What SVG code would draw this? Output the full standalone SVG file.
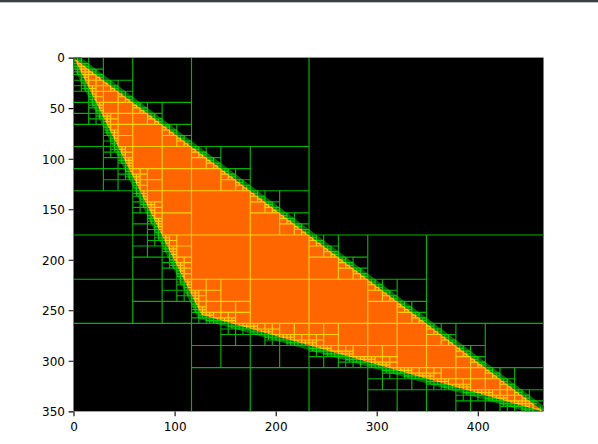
<svg xmlns="http://www.w3.org/2000/svg" width="598" height="444" viewBox="0 0 598 444">
<style>
.lbl{font-family:"DejaVu Sans",sans-serif;font-size:12px;fill:#000}
.tk{stroke:#000;stroke-width:1.1}
.q{fill:none;stroke:#00b400;stroke-width:1.15;vector-effect:non-scaling-stroke}
</style>
<defs>
<clipPath id="ax"><rect x="-0.5" y="-0.5" width="465" height="350"/></clipPath>
</defs>
<rect x="0" y="0" width="598" height="444" fill="#fff"/>
<rect x="0" y="0" width="598" height="2.3" fill="#3c3f41"/>
<g id="plot" transform="translate(74,58.1) scale(1.0108)">
<rect x="-0.5" y="-0.5" width="465" height="350" fill="#000"/>
<g clip-path="url(#ax)">
<polygon id="band" points="0,0 126,254 465,350" fill="none" stroke="#006c00" stroke-width="9" stroke-linejoin="round"/>
<polygon id="triangle" points="0,0 126,254 465,350" fill="#ff6600"/>
<g id="quadtree" style="mix-blend-mode:screen">
<path class="q" transform="scale(465,350)" d="M.5,0v1m-.5-.5h1"/>
<path class="q" transform="scale(232.5,175)" d="M.5,0v1m-.5-.5h1M.5,1v1m-.5-.5h1M1.5,1v1m-.5-.5h1"/>
<path class="q" transform="scale(116.25,87.5)" d="M.5,0v1m-.5-.5h1m.5.5v1m-.5-.5h1m.5.5v1m-.5-.5h1m.5.5v1m-.5-.5h1m.5.5M.5,1v1m-.5-.5h1m-.5.5v1m-.5-.5h1m-.5.5M1.5,2v1m-.5-.5h1m-.5.5v1m-.5-.5h1m-.5.5M2.5,3v1m-.5-.5h1"/>
<path class="q" transform="scale(58.125,43.75)" d="M.5,0v1m-.5-.5h1m.5.5v1m-.5-.5h1m.5.5v1m-.5-.5h1m.5.5v1m-.5-.5h1m.5.5v1m-.5-.5h1m.5.5v1m-.5-.5h1m.5.5v1m-.5-.5h1m.5.5v1m-.5-.5h1m.5.5M.5,1v1m-.5-.5h1m-.5.5v1m-.5-.5h1m-.5.5M1.5,2v1m-.5-.5h1m-.5.5v1m-.5-.5h1m-.5.5v1m-.5-.5h1m-.5.5v1m-.5-.5h1m-.5.5M2.5,5v1m-.5-.5h1m-.5.5v1m-.5-.5h1m-.5.5M3.5,6v1m-.5-.5h1m.5-.5v1m-.5-.5h1m.5-.5v1m-.5-.5h1m.5-.5M5.5,7v1m-.5-.5h1m.5-.5v1m-.5-.5h1m.5-.5"/>
<path class="q" transform="scale(29.0625,21.875)" d="M.5,0v1m-.5-.5h1m.5.5v1m-.5-.5h1m.5.5v1m-.5-.5h1m.5.5v1m-.5-.5h1m.5.5v1m-.5-.5h1m.5.5v1m-.5-.5h1m.5.5v1m-.5-.5h1m.5.5v1m-.5-.5h1m.5.5v1m-.5-.5h1m.5.5v1m-.5-.5h1m.5.5v1m-.5-.5h1m.5.5v1m-.5-.5h1m.5.5v1m-.5-.5h1m.5.5v1m-.5-.5h1m.5.5v1m-.5-.5h1m.5.5v1m-.5-.5h1m.5.5M.5,1v1m-.5-.5h1m-.5.5v1m-.5-.5h1m-.5.5M1.5,2v1m-.5-.5h1m-.5.5v1m-.5-.5h1m-.5.5v1m-.5-.5h1m-.5.5v1m-.5-.5h1m-.5.5M2.5,5v1m-.5-.5h1m-.5.5v1m-.5-.5h1m-.5.5v1m-.5-.5h1m-.5.5v1m-.5-.5h1m-.5.5M3.5,8v1m-.5-.5h1m-.5.5v1m-.5-.5h1m-.5.5v1m-.5-.5h1m-.5.5M4.5,10v1m-.5-.5h1m-.5.5v1m-.5-.5h1m-.5.5M5.5,11v1m-.5-.5h1M5.5,12v1m-.5-.5h1m.5-.5v1m-.5-.5h1m.5-.5v1m-.5-.5h1m.5-.5v1m-.5-.5h1m.5-.5M8.5,13v1m-.5-.5h1m.5-.5v1m-.5-.5h1m.5-.5v1m-.5-.5h1m.5-.5M10.5,14v1m-.5-.5h1m.5-.5v1m-.5-.5h1m.5-.5v1m-.5-.5h1m.5-.5v1m-.5-.5h1m.5-.5M13.5,15v1m-.5-.5h1m.5-.5v1m-.5-.5h1m.5-.5"/>
<path class="q" transform="scale(14.53125,10.9375)" d="M.5,0v1m-.5-.5h1m.5.5v1m-.5-.5h1m.5.5v1m-.5-.5h1m.5.5v1m-.5-.5h1m.5.5v1m-.5-.5h1m.5.5v1m-.5-.5h1m.5.5v1m-.5-.5h1m.5.5v1m-.5-.5h1m.5.5v1m-.5-.5h1m.5.5v1m-.5-.5h1m.5.5v1m-.5-.5h1m.5.5v1m-.5-.5h1m.5.5v1m-.5-.5h1m.5.5v1m-.5-.5h1m.5.5v1m-.5-.5h1m.5.5v1m-.5-.5h1m.5.5v1m-.5-.5h1m.5.5v1m-.5-.5h1m.5.5v1m-.5-.5h1m.5.5v1m-.5-.5h1m.5.5v1m-.5-.5h1m.5.5v1m-.5-.5h1m.5.5v1m-.5-.5h1m.5.5v1m-.5-.5h1m.5.5v1m-.5-.5h1m.5.5v1m-.5-.5h1m.5.5v1m-.5-.5h1m.5.5v1m-.5-.5h1m.5.5v1m-.5-.5h1m.5.5v1m-.5-.5h1m.5.5v1m-.5-.5h1m.5.5
M.5,1v1m-.5-.5h1m-.5.5v1m-.5-.5h1m-.5.5
M1.5,2v1m-.5-.5h1m-.5.5v1m-.5-.5h1m-.5.5v1m-.5-.5h1m-.5.5v1m-.5-.5h1m-.5.5
M2.5,5v1m-.5-.5h1m-.5.5v1m-.5-.5h1m-.5.5v1m-.5-.5h1m-.5.5v1m-.5-.5h1m-.5.5
M3.5,8v1m-.5-.5h1m-.5.5v1m-.5-.5h1m-.5.5v1m-.5-.5h1m-.5.5
M4.5,10v1m-.5-.5h1m-.5.5v1m-.5-.5h1m-.5.5v1m-.5-.5h1m-.5.5v1m-.5-.5h1m-.5.5
M5.5,13v1m-.5-.5h1m-.5.5v1m-.5-.5h1m-.5.5v1m-.5-.5h1m-.5.5v1m-.5-.5h1m-.5.5
M6.5,16v1m-.5-.5h1m-.5.5v1m-.5-.5h1m-.5.5v1m-.5-.5h1m-.5.5
M7.5,18v1m-.5-.5h1m-.5.5v1m-.5-.5h1m-.5.5v1m-.5-.5h1m-.5.5v1m-.5-.5h1m-.5.5
M8.5,21v1m-.5-.5h1m-.5.5v1m-.5-.5h1m-.5.5v1m-.5-.5h1m-.5.5
M9.5,23v1m-.5-.5h1m.5-.5v1m-.5-.5h1m.5-.5
M10.5,24v1m-.5-.5h1m.5-.5v1m-.5-.5h1m.5-.5v1m-.5-.5h1m.5-.5v1m-.5-.5h1m.5-.5
M13.5,25v1m-.5-.5h1m.5-.5v1m-.5-.5h1m.5-.5v1m-.5-.5h1m.5-.5v1m-.5-.5h1m.5-.5
M16.5,26v1m-.5-.5h1m.5-.5v1m-.5-.5h1m.5-.5v1m-.5-.5h1m.5-.5
M18.5,27v1m-.5-.5h1m.5-.5v1m-.5-.5h1m.5-.5v1m-.5-.5h1m.5-.5v1m-.5-.5h1m.5-.5
M21.5,28v1m-.5-.5h1m.5-.5v1m-.5-.5h1m.5-.5v1m-.5-.5h1m.5-.5v1m-.5-.5h1m.5-.5
M24.5,29v1m-.5-.5h1m.5-.5v1m-.5-.5h1m.5-.5v1m-.5-.5h1m.5-.5
M26.5,30v1m-.5-.5h1m.5-.5v1m-.5-.5h1m.5-.5v1m-.5-.5h1m.5-.5v1m-.5-.5h1m.5-.5
M29.5,31v1m-.5-.5h1m.5-.5v1m-.5-.5h1m.5-.5"/>
<path class="q" transform="scale(7.265625,5.46875)" d="M.5,0v1m-.5-.5h1m.5.5v1m-.5-.5h1m.5.5v1m-.5-.5h1m.5.5v1m-.5-.5h1m.5.5v1m-.5-.5h1m.5.5v1m-.5-.5h1m.5.5v1m-.5-.5h1m.5.5v1m-.5-.5h1m.5.5
v1m-.5-.5h1m.5.5v1m-.5-.5h1m.5.5v1m-.5-.5h1m.5.5v1m-.5-.5h1m.5.5v1m-.5-.5h1m.5.5v1m-.5-.5h1m.5.5v1m-.5-.5h1m.5.5v1m-.5-.5h1m.5.5
v1m-.5-.5h1m.5.5v1m-.5-.5h1m.5.5v1m-.5-.5h1m.5.5v1m-.5-.5h1m.5.5v1m-.5-.5h1m.5.5v1m-.5-.5h1m.5.5v1m-.5-.5h1m.5.5v1m-.5-.5h1m.5.5
v1m-.5-.5h1m.5.5v1m-.5-.5h1m.5.5v1m-.5-.5h1m.5.5v1m-.5-.5h1m.5.5v1m-.5-.5h1m.5.5v1m-.5-.5h1m.5.5v1m-.5-.5h1m.5.5v1m-.5-.5h1m.5.5
v1m-.5-.5h1m.5.5v1m-.5-.5h1m.5.5v1m-.5-.5h1m.5.5v1m-.5-.5h1m.5.5v1m-.5-.5h1m.5.5v1m-.5-.5h1m.5.5v1m-.5-.5h1m.5.5v1m-.5-.5h1m.5.5
v1m-.5-.5h1m.5.5v1m-.5-.5h1m.5.5v1m-.5-.5h1m.5.5v1m-.5-.5h1m.5.5v1m-.5-.5h1m.5.5v1m-.5-.5h1m.5.5v1m-.5-.5h1m.5.5v1m-.5-.5h1m.5.5
v1m-.5-.5h1m.5.5v1m-.5-.5h1m.5.5v1m-.5-.5h1m.5.5v1m-.5-.5h1m.5.5v1m-.5-.5h1m.5.5v1m-.5-.5h1m.5.5v1m-.5-.5h1m.5.5v1m-.5-.5h1m.5.5
v1m-.5-.5h1m.5.5v1m-.5-.5h1m.5.5v1m-.5-.5h1m.5.5v1m-.5-.5h1m.5.5v1m-.5-.5h1m.5.5v1m-.5-.5h1m.5.5v1m-.5-.5h1m.5.5v1m-.5-.5h1m.5.5
M.5,1v1m-.5-.5h1m-.5.5v1m-.5-.5h1m-.5.5
M1.5,2v1m-.5-.5h1m-.5.5v1m-.5-.5h1m-.5.5v1m-.5-.5h1m-.5.5v1m-.5-.5h1m-.5.5
M2.5,5v1m-.5-.5h1m-.5.5v1m-.5-.5h1m-.5.5v1m-.5-.5h1m-.5.5v1m-.5-.5h1m-.5.5
M3.5,8v1m-.5-.5h1m-.5.5v1m-.5-.5h1m-.5.5v1m-.5-.5h1m-.5.5
M4.5,10v1m-.5-.5h1m-.5.5v1m-.5-.5h1m-.5.5v1m-.5-.5h1m-.5.5v1m-.5-.5h1m-.5.5
M5.5,13v1m-.5-.5h1m-.5.5v1m-.5-.5h1m-.5.5v1m-.5-.5h1m-.5.5v1m-.5-.5h1m-.5.5
M6.5,16v1m-.5-.5h1m-.5.5v1m-.5-.5h1m-.5.5v1m-.5-.5h1m-.5.5
M7.5,18v1m-.5-.5h1m-.5.5v1m-.5-.5h1m-.5.5v1m-.5-.5h1m-.5.5v1m-.5-.5h1m-.5.5
M8.5,21v1m-.5-.5h1m-.5.5v1m-.5-.5h1m-.5.5v1m-.5-.5h1m-.5.5v1m-.5-.5h1m-.5.5
M9.5,24v1m-.5-.5h1m-.5.5v1m-.5-.5h1m-.5.5v1m-.5-.5h1m-.5.5
M10.5,26v1m-.5-.5h1m-.5.5v1m-.5-.5h1m-.5.5v1m-.5-.5h1m-.5.5v1m-.5-.5h1m-.5.5
M11.5,29v1m-.5-.5h1m-.5.5v1m-.5-.5h1m-.5.5v1m-.5-.5h1m-.5.5v1m-.5-.5h1m-.5.5
M12.5,32v1m-.5-.5h1m-.5.5v1m-.5-.5h1m-.5.5v1m-.5-.5h1m-.5.5
M13.5,34v1m-.5-.5h1m-.5.5v1m-.5-.5h1m-.5.5v1m-.5-.5h1m-.5.5v1m-.5-.5h1m-.5.5
M14.5,37v1m-.5-.5h1m-.5.5v1m-.5-.5h1m-.5.5v1m-.5-.5h1m-.5.5v1m-.5-.5h1m-.5.5
M15.5,40v1m-.5-.5h1m-.5.5v1m-.5-.5h1m-.5.5v1m-.5-.5h1m-.5.5
M16.5,42v1m-.5-.5h1m-.5.5v1m-.5-.5h1m-.5.5v1m-.5-.5h1m-.5.5v1m-.5-.5h1m-.5.5
M17.5,45v1m-.5-.5h1m-.5.5v1m-.5-.5h1m-.5.5
M18.5,46v1m-.5-.5h1
M18.5,47v1m-.5-.5h1m.5-.5v1m-.5-.5h1m.5-.5v1m-.5-.5h1m.5-.5v1m-.5-.5h1m.5-.5
M21.5,48v1m-.5-.5h1m.5-.5v1m-.5-.5h1m.5-.5v1m-.5-.5h1m.5-.5v1m-.5-.5h1m.5-.5
M24.5,49v1m-.5-.5h1m.5-.5v1m-.5-.5h1m.5-.5v1m-.5-.5h1m.5-.5
M26.5,50v1m-.5-.5h1m.5-.5v1m-.5-.5h1m.5-.5v1m-.5-.5h1m.5-.5v1m-.5-.5h1m.5-.5
M29.5,51v1m-.5-.5h1m.5-.5v1m-.5-.5h1m.5-.5v1m-.5-.5h1m.5-.5v1m-.5-.5h1m.5-.5
M32.5,52v1m-.5-.5h1m.5-.5v1m-.5-.5h1m.5-.5v1m-.5-.5h1m.5-.5
M34.5,53v1m-.5-.5h1m.5-.5v1m-.5-.5h1m.5-.5v1m-.5-.5h1m.5-.5v1m-.5-.5h1m.5-.5
M37.5,54v1m-.5-.5h1m.5-.5v1m-.5-.5h1m.5-.5v1m-.5-.5h1m.5-.5v1m-.5-.5h1m.5-.5
M40.5,55v1m-.5-.5h1m.5-.5v1m-.5-.5h1m.5-.5v1m-.5-.5h1m.5-.5
M42.5,56v1m-.5-.5h1m.5-.5v1m-.5-.5h1m.5-.5v1m-.5-.5h1m.5-.5v1m-.5-.5h1m.5-.5
M45.5,57v1m-.5-.5h1m.5-.5v1m-.5-.5h1m.5-.5v1m-.5-.5h1m.5-.5v1m-.5-.5h1m.5-.5
M48.5,58v1m-.5-.5h1m.5-.5v1m-.5-.5h1m.5-.5v1m-.5-.5h1m.5-.5
M50.5,59v1m-.5-.5h1m.5-.5v1m-.5-.5h1m.5-.5v1m-.5-.5h1m.5-.5v1m-.5-.5h1m.5-.5
M53.5,60v1m-.5-.5h1m.5-.5v1m-.5-.5h1m.5-.5v1m-.5-.5h1m.5-.5v1m-.5-.5h1m.5-.5
M56.5,61v1m-.5-.5h1m.5-.5v1m-.5-.5h1m.5-.5v1m-.5-.5h1m.5-.5
M58.5,62v1m-.5-.5h1m.5-.5v1m-.5-.5h1m.5-.5v1m-.5-.5h1m.5-.5v1m-.5-.5h1m.5-.5
M61.5,63v1m-.5-.5h1m.5-.5v1m-.5-.5h1m.5-.5"/>
</g>
</g>
</g>
<g id="yaxis">
<path class="tk" d="M68.6,58.1h4.9M68.6,108.6h4.9M68.6,159.2h4.9M68.6,209.7h4.9M68.6,260.3h4.9M68.6,310.8h4.9M68.6,361.3h4.9M68.6,411.9h4.9"/>
<text class="lbl" text-anchor="end" x="65" y="62.4">0</text>
<text class="lbl" text-anchor="end" x="65" y="112.9">50</text>
<text class="lbl" text-anchor="end" x="65" y="163.5">100</text>
<text class="lbl" text-anchor="end" x="65" y="214">150</text>
<text class="lbl" text-anchor="end" x="65" y="264.6">200</text>
<text class="lbl" text-anchor="end" x="65" y="315.1">250</text>
<text class="lbl" text-anchor="end" x="65" y="365.6">300</text>
<text class="lbl" text-anchor="end" x="65" y="416.2">350</text>
</g>
<g id="xaxis">
<path class="tk" d="M74,411.4v4.9M175.1,411.4v4.9M276.2,411.4v4.9M377.2,411.4v4.9M478.3,411.4v4.9"/>
<text class="lbl" text-anchor="middle" x="74" y="431">0</text>
<text class="lbl" text-anchor="middle" x="175.1" y="431">100</text>
<text class="lbl" text-anchor="middle" x="276.2" y="431">200</text>
<text class="lbl" text-anchor="middle" x="377.2" y="431">300</text>
<text class="lbl" text-anchor="middle" x="478.3" y="431">400</text>
</g>
</svg>
